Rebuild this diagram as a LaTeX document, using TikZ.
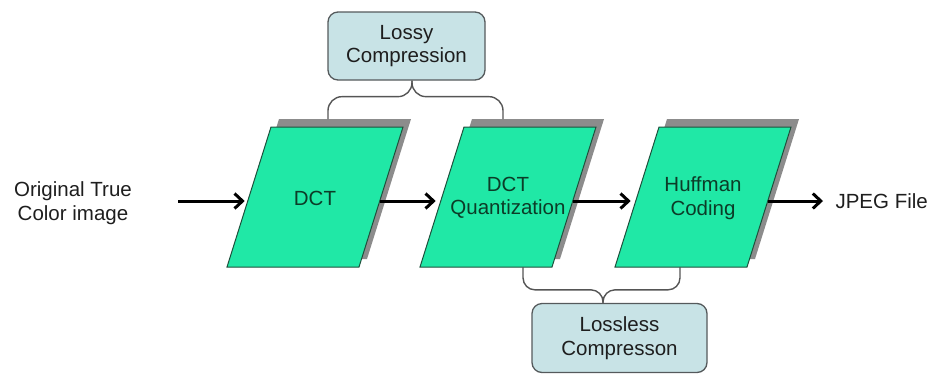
\documentclass[tikz,border=0pt]{standalone}
\usepackage{fontspec}
\setmainfont{Liberation Sans}
\usetikzlibrary{arrows.meta}
\definecolor{stagefill}{RGB}{32,232,166}
\definecolor{stageedge}{RGB}{30,80,60}
\definecolor{stagetext}{RGB}{12,60,40}
\definecolor{notefill}{RGB}{200,227,230}
\definecolor{noteedge}{RGB}{85,90,92}
\definecolor{bracecol}{RGB}{85,85,85}
\definecolor{shadowcol}{RGB}{140,140,140}
\definecolor{labeltext}{RGB}{30,30,30}
\begin{document}
\begin{tikzpicture}[x=1pt,y=-1pt,
  every node/.style={font=\fontsize{20.5}{23.5}\selectfont},
  stagelabel/.style={align=center, text=stagetext},
  % slanted stage box with an offset shadow; -in/-out mark its edges at flow height
  pics/stagebox/.style={code={
    \fill[shadowcol] (-36,-78) -- (96,-78) -- (52,62) -- (-80,62) -- cycle;
    \filldraw[fill=stagefill, draw=stageedge, line width=1pt]
      (-44,-70) -- (88,-70) -- (44,70) -- (-88,70) -- cycle;
    \node[stagelabel] (-label) at (0,1) {#1};
    \coordinate (-in) at (-67.3,4);
    \coordinate (-out) at (64.7,4);
  }},
  note/.style={rectangle, rounded corners=10pt, fill=notefill, draw=noteedge,
    line width=1.3pt, text=labeltext, align=center},
  flow/.style={line width=3pt, -{Straight Barb[length=8pt,width=15pt]}},
  bracket/.style={draw=bracecol, line width=1.4pt}]

\useasboundingbox (0,0) rectangle (936,373);

% processing stages
\pic (dct)   at (315,197) {stagebox={DCT}};
\pic (quant) at (508,197) {stagebox={DCT\\Quantization}};
\pic (huff)  at (703,197) {stagebox={Huffman\\Coding}};

% input and output labels
\node[align=center, text=labeltext] (src) at (73,203) {Original True\\Color image};
\node[anchor=west, text=labeltext] (jpeg) at (832,201) {JPEG File};

% grouping notes
\node[note, minimum width=157pt, minimum height=68pt] (lossy) at (406.5,46) {Lossy\\Compression};
\node[note, minimum width=175pt, minimum height=69pt] (lossless) at (619.5,338) {Lossless\\Compresson};

% data flow
\coordinate (srcend) at (178,201);
\draw[flow, shorten >=3pt] (srcend) -- (dct-in);
\draw[flow, shorten >=5pt] (dct-out) -- (quant-in);
\draw[flow, shorten >=5pt] (quant-out) -- (huff-in);
\draw[flow, shorten >=9pt] (huff-out) -- (jpeg.west |- huff-out);

% upper brace: lossy stages
\coordinate (lossytip) at ([xshift=5.5pt]lossy.south);
\coordinate (upL) at (328,119);
\coordinate (upR) at (503,119);
\draw[bracket, rounded corners=14pt] (upL) |- ([yshift=-16pt]lossytip) -- (lossytip);
\draw[bracket, rounded corners=14pt] (upR) |- ([yshift=-16pt]lossytip) -- (lossytip);

% lower brace: lossless stage
\coordinate (losslesstip) at ([xshift=-16.5pt]lossless.north);
\coordinate (loL) at (523,267);
\coordinate (loR) at (680,267);
\draw[bracket, rounded corners=12pt] (loL) |- ([yshift=13pt]losslesstip) -- (losslesstip);
\draw[bracket, rounded corners=12pt] (loR) |- ([yshift=13pt]losslesstip) -- (losslesstip);
\end{tikzpicture}
\end{document}
